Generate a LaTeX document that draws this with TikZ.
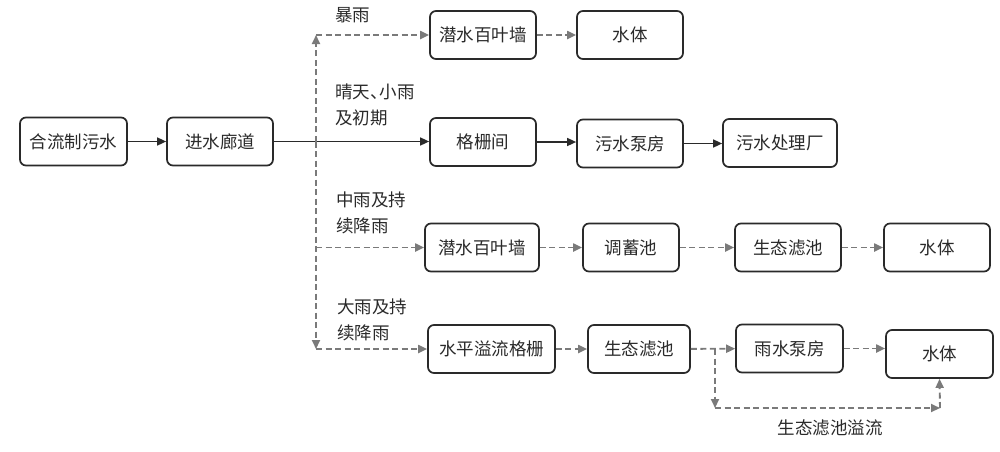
\documentclass[tikz,border=0pt]{standalone}
\usepackage{fontspec}
\newfontfamily\cjk{Noto Sans CJK SC}
\usetikzlibrary{arrows.meta}
\definecolor{dgray}{HTML}{7A7A7A}
\definecolor{ink}{HTML}{2A2A2A}
\begin{document}
\begin{tikzpicture}[x=1pt,y=-1pt,
  box/.style={draw=ink, line width=1.7pt, rounded corners=6pt, minimum height=48pt, inner sep=0pt, font=\cjk\fontsize{17.5}{20}\selectfont, text=ink},
  lbl/.style={font=\cjk\fontsize{17.5}{26}\selectfont, text=ink, align=left, inner sep=0pt},
  sarrow/.style={-{Triangle[length=9pt,width=8pt]}, line width=1.5pt, draw=ink},
  darrow/.style={-{Triangle[length=9pt,width=8pt]}, line width=1.9pt, draw=dgray, dash pattern=on 6pt off 3.5pt}]
\useasboundingbox[fill=white] (0,0) rectangle (1000,451);
% nodes
\node[box, minimum width=107pt] (a) at (73.5,141.5) {合流制污水};
\node[box, minimum width=106pt] (b) at (220,141.5) {进水廊道};
\node[box, minimum width=106pt] (t1) at (483,35) {潜水百叶墙};
\node[box, minimum width=106pt] (t2) at (630,35) {水体};
\node[box, minimum width=106pt] (g1) at (483,142) {格栅间};
\node[box, minimum width=106pt] (g2) at (630,143.5) {污水泵房};
\node[box, minimum width=114pt] (g3) at (780,143) {污水处理厂};
\node[box, minimum width=114pt] (m1) at (482,247.5) {潜水百叶墙};
\node[box, minimum width=96pt] (m2) at (631,247.5) {调蓄池};
\node[box, minimum width=106pt] (m3) at (788,247.5) {生态滤池};
\node[box, minimum width=106pt] (m4) at (937,247.5) {水体};
\node[box, minimum width=127pt] (h1) at (491.5,349) {水平溢流格栅};
\node[box, minimum width=102pt] (h2) at (639,349) {生态滤池};
\node[box, minimum width=107pt] (h3) at (789.5,348.5) {雨水泵房};
\node[box, minimum width=107pt] (h4) at (939.5,354) {水体};
% labels
\node[lbl, anchor=west] (l1) at (335,15) {暴雨};
\node[lbl, anchor=west] (l2) at (335,105) {晴天、\kern-0.45em小雨\\及初期};
\node[lbl, anchor=west] (l3) at (336,213) {中雨及持\\续降雨};
\node[lbl, anchor=west] (l4) at (337,320) {大雨及持\\续降雨};
\node[lbl] (l5) at (830,428) {生态滤池溢流};
% coordinates
\coordinate (j) at (316,141.5);
\coordinate (jt) at (316,35);
\coordinate (jm) at (316,247.5);
\coordinate (jb) at (316,349);
\coordinate (k1) at (715,349);
\coordinate (k2) at (715,408);
\coordinate (k3) at (940,408);
% solid connectors
\draw[sarrow] (a) -- (b);
\draw[sarrow] (b.east) -- (g1.west |- b.east);
\draw[sarrow] (g1.east) -- (g2.west |- g1.east);
\draw[sarrow] (g2.east) -- (g3.west |- g2.east);
% dashed connectors
\draw[darrow] (j) -- (jt);
\draw[darrow] (jt) -- (t1);
\draw[darrow] (t1) -- (t2);
\draw[darrow] (j) -- (jb);
\draw[darrow] (jb) -- (h1);
\draw[darrow] (jm) -- (m1);
\draw[darrow] (m1) -- (m2);
\draw[darrow] (m2) -- (m3);
\draw[darrow] (m3) -- (m4);
\draw[darrow] (h1) -- (h2);
\draw[darrow] (h2) -- (h3);
\draw[darrow] (h3.east) -- (h4.west |- h3.east);
\draw[darrow] (k1) -- (k2);
\draw[darrow] (k2) -- (k3);
\draw[darrow] (k3) -- (h4.south);
\end{tikzpicture}
\end{document}
